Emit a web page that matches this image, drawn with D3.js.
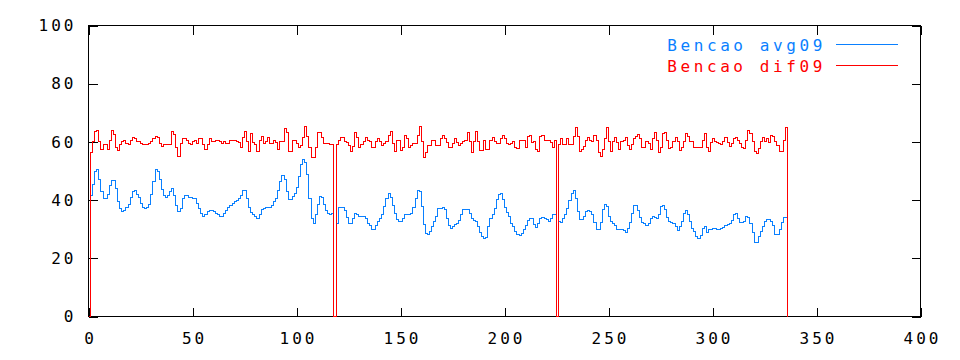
<!DOCTYPE html>
<html>
<head>
<meta charset="utf-8">
<script src="https://cdn.jsdelivr.net/npm/d3@7"></script>
<style>
  body { margin: 0; background: #fff; }
  svg { display: block; }
  text { font-family: "DejaVu Sans Mono", monospace; font-size: 16px; letter-spacing: 3px; }
  .legend text { letter-spacing: 3.6px; }
</style>
</head>
<body>
<script>
var seriesNames = ["Bencao avg09", "Bencao dif09"];
var seriesColors = ["#0a80ff", "#ff0000"];

var xTicks = [0, 50, 100, 150, 200, 250, 300, 350, 400];
var yTicks = [0, 20, 40, 60, 80, 100];

// avg09, one value per x step (x = index), null = no point yet
var avg09 = [
  null, 41.5, 45.5, 50, 50.5, 47, 43, 40.5, 40.5, 42,
  45, 46.8, 46.8, 44, 39.5, 37, 36, 36.5, 37.5, 38.5,
  41, 43, 43.2, 42, 41, 39, 37.5, 37, 37.5, 38.5,
  42, 46.5, 50.5, 50, 47, 43.5, 41.5, 41, 41.5, 43,
  44, 41.5, 38, 36, 37, 40.5, 41.5, 41.5, 41, 41,
  40.5, 40.5, 39, 37, 35.5, 34.5, 35, 36, 36.5, 36.5,
  36, 35.5, 35, 34.5, 34.5, 35.5, 36.4, 37.5, 38.2, 39,
  39.6, 39.9, 40.4, 41.6, 43.4, 43.2, 40.4, 37.5, 35.9, 35.2,
  34.4, 33.8, 35, 36.7, 37, 37.3, 37.3, 37.3, 38.2, 39.6,
  40.7, 43.2, 46.4, 48.4, 47, 43, 40.1, 40.1, 41.3, 42.1,
  44.2, 48.2, 52.2, 53.9, 52.8, 48.8, 40.7, 33.8, 32.1, 35,
  38.6, 41.3, 41, 38.4, 36.3, 35.3, 35, 35.5, 0, 32.1,
  37.3, 37.3, 37.5, 36.3, 34, 32.1, 32.1, 33.8, 35.5, 35,
  34.2, 34.4, 34.4, 33.8, 32, 31.3, 30, 30, 31.3, 32.7,
  33.8, 35, 37.8, 40.7, 42.1, 41, 38.2, 35.5, 33.5, 32.7,
  32.7, 33.6, 35, 35.2, 35.2, 35.5, 37.5, 40.7, 43.2, 43,
  37.8, 31.5, 28.4, 28.1, 29.2, 31, 32.7, 34.4, 37, 37,
  37.5, 36.7, 33.8, 31.3, 30.4, 31, 31.5, 31.8, 32.9, 35,
  36.7, 36.9, 36.9, 35.3, 33.6, 33, 32.7, 31, 29, 27.5,
  26.9, 27.3, 31, 33.8, 35.2, 37, 40.1, 41.9, 42.1, 40.1,
  37.5, 35.8, 34.4, 32.1, 31, 29.2, 28.1, 27.7, 28.6, 29.8,
  31.3, 32.9, 33.8, 33.6, 31.5, 30.6, 32.1, 33.8, 34, 33.8,
  33.2, 32.7, 33.6, 35, 35, 0, 32.7, 32.4, 33.6, 35,
  37, 39.8, 42.1, 43.2, 40.7, 36.1, 33.2, 33.2, 34.4, 36.1,
  36.3, 36.1, 35, 32.4, 29.8, 29.8, 32.4, 36.7, 38.4, 37.8,
  34.4, 32.7, 31.8, 31.3, 30, 30, 30, 29.4, 29, 30.4,
  32.4, 35.5, 38.2, 38.2, 36.3, 34, 32.3, 31.8, 31.3, 32.1,
  33.8, 34.4, 34, 33.8, 35.2, 37.8, 38.2, 36.7, 34, 32.7,
  32.4, 31.8, 31, 29.4, 31, 32.7, 35.5, 36.3, 35, 32.7,
  30.1, 29.2, 27.5, 26.7, 27.8, 30.4, 30.8, 29, 29.8, 29.8,
  30.4, 30.4, 29.8, 29.8, 30.1, 30.6, 31.3, 31.5, 32.1, 32.9,
  35, 35.3, 33.8, 32.3, 32.3, 32.7, 34.4, 34.1, 32.1, 29,
  25.5, 25.5, 27.5, 29.2, 31, 32.7, 33.2, 33.2, 32.7, 31.3,
  28.3, 28.1, 30, 32.3, 34.1, 34.1, 0
];

// dif09
var dif09 = [
  0, 56.5, 60, 63.5, 64, 60, 57.5, 59, 59, 57.5,
  60.5, 64, 62.5, 58, 57, 59, 60, 60.5, 59.5, 59,
  60.5, 61.5, 61, 60, 60, 59.5, 59, 59, 59, 59.5,
  60, 61, 62, 61.5, 59.5, 58.5, 59, 59, 59, 59,
  63.5, 62.5, 58, 55, 59.5, 61, 61, 60.5, 59.5, 59,
  60, 60.5, 59.5, 61, 61, 59, 57.5, 59, 61, 60,
  60, 60.5, 60.5, 60, 59.5, 60, 59.5, 59.3, 60.5, 60.5,
  60.5, 60, 59.7, 58.2, 61.4, 63.7, 60, 56.6, 62.9, 59.7,
  59.1, 56.6, 60.6, 62, 59.3, 60, 61.4, 59.3, 59.3, 60.5,
  59.7, 57.4, 60, 60.2, 64.6, 63.1, 56.6, 56.6, 60.5, 60.5,
  59.3, 58.2, 58.9, 61.6, 65.4, 62, 58.2, 54.5, 54.5, 58.2,
  63.1, 63.1, 61.6, 59.3, 59.3, 59.3, 59.1, 59.1, 0, 59.1,
  60.5, 61.6, 61.6, 60.2, 59.7, 58.9, 56.6, 58.5, 63.1, 61.6,
  58.2, 59.1, 60, 61.6, 60.5, 60, 58.2, 58.2, 60, 61.2,
  60, 58.9, 59.3, 60, 62.3, 63.7, 59.3, 56.8, 60.6, 60.6,
  57, 58.2, 62.3, 61.2, 58.2, 58.9, 59.3, 59.3, 62.3, 65.4,
  60, 54.5, 56.4, 58.9, 58.9, 60.6, 60.6, 58.9, 58.9, 61.2,
  62.3, 61.2, 59.7, 58.2, 58.2, 59.3, 61.2, 59.7, 58.9, 59.3,
  60, 60.6, 63.1, 60.2, 56.4, 60.2, 63.7, 60.2, 57, 57,
  60.6, 57.4, 57.4, 60.6, 61.6, 60, 59.3, 59.3, 61.2, 62.3,
  61.2, 59.5, 59.1, 59.3, 60, 58.2, 57.6, 60.6, 60.6, 60.6,
  58.2, 62, 62.3, 59.7, 60, 57.4, 56.8, 62, 62.3, 60.6,
  60.6, 60.6, 59.7, 58.2, 60.6, 0, 59.1, 61.2, 59.1, 59.1,
  61.2, 59.1, 59.1, 62, 64.8, 62, 56.8, 57.4, 58.5, 60.5,
  61.6, 60.5, 60, 62.3, 60.5, 56.2, 55.1, 57.4, 61.2, 64.8,
  60, 56.8, 60, 61.6, 59.7, 57.4, 60, 60.6, 61.6, 58.9,
  57.4, 59.1, 61.2, 61.7, 62.5, 61.2, 58.2, 58.2, 60, 59.3,
  57.4, 61.2, 63.1, 60.5, 56.4, 58.2, 62.9, 63.1, 60.5, 57.7,
  58.2, 60.2, 61.6, 60, 57.1, 58.2, 60, 62.9, 62, 60,
  60, 58.2, 58.2, 58.2, 58.2, 60.5, 62.9, 58.2, 56.8, 59.7,
  61.2, 60, 59.7, 59.3, 59.1, 60, 61.6, 59.7, 58.5, 59.3,
  61.2, 61.6, 60.5, 59.3, 58.2, 57.6, 60.5, 63.9, 62.8, 60,
  56.8, 55.9, 57.7, 60, 61.6, 60, 61.2, 59.7, 62.3, 62,
  60, 58.9, 56.8, 56.8, 60.5, 65, 0
];

(function() {
  'use strict';

  var width = 960,
      height = 360,
      margin = {left: 88.5, right: 39.5, top: 25.5, bottom: 43.5};

  var svg = d3.select("body").append("svg")
              .attr("width", width)
              .attr("height", height);

  var x = d3.scaleLinear().domain([0, 400]).range([margin.left, width - margin.right]);
  var y = d3.scaleLinear().domain([0, 100]).range([height - margin.bottom, margin.top]);

  // ticks point inward on all four sides, like gnuplot
  function styleAxis(g) {
    g.select(".domain").remove();
    g.selectAll(".tick line").attr("stroke", "#000").attr("shape-rendering", "crispEdges");
    g.selectAll(".tick text")
      .attr("fill", "#000")
      .attr("font-family", null)
      .attr("font-size", null);
  }

  svg.append("g")
     .attr("transform", "translate(0," + y(0) + ")")
     .call(d3.axisBottom(x).tickValues(xTicks).tickSizeInner(-9).tickSizeOuter(0).tickPadding(16))
     .call(styleAxis)
     .selectAll(".tick text").attr("dx", "1.5");

  svg.append("g")
     .attr("transform", "translate(0," + y(100) + ")")
     .call(d3.axisTop(x).tickValues(xTicks).tickSizeInner(-9).tickSizeOuter(0).tickFormat(""))
     .call(styleAxis);

  svg.append("g")
     .attr("transform", "translate(" + x(0) + ",0)")
     .call(d3.axisLeft(y).tickValues(yTicks).tickSizeInner(-9).tickSizeOuter(0).tickPadding(12))
     .call(styleAxis);

  svg.append("g")
     .attr("transform", "translate(" + x(400) + ",0)")
     .call(d3.axisRight(y).tickValues(yTicks).tickSizeInner(-9).tickSizeOuter(0).tickFormat(""))
     .call(styleAxis);

  svg.append("rect")
     .attr("x", x(0))
     .attr("y", y(100))
     .attr("width", x(400) - x(0))
     .attr("height", y(0) - y(100))
     .attr("fill", "none")
     .attr("stroke", "#000")
     .attr("shape-rendering", "crispEdges");

  var line = d3.line()
               .defined(function(d) { return d != null; })
               .x(function(d, i) { return x(i); })
               .y(function(d) { return y(d); })
               .curve(d3.curveStepAfter);

  svg.selectAll("path.series").data([avg09, dif09]).enter()
     .append("path")
     .attr("class", "series")
     .attr("d", line)
     .attr("fill", "none")
     .attr("stroke", function(d, i) { return seriesColors[i]; })
     .attr("stroke-width", 1)
     .attr("shape-rendering", "crispEdges");

  // legend, top right inside the frame
  var legend = svg.selectAll("g.legend").data(seriesNames).enter()
                  .append("g")
                  .attr("class", "legend")
                  .attr("transform", function(d, i) { return "translate(0," + (44.5 + i * 21) + ")"; });

  legend.append("text")
        .attr("x", 826)
        .attr("y", 6.5)
        .attr("text-anchor", "end")
        .attr("fill", function(d, i) { return seriesColors[i]; })
        .text(function(d) { return d; });

  legend.append("line")
        .attr("x1", 836)
        .attr("x2", 898)
        .attr("y1", 0)
        .attr("y2", 0)
        .attr("stroke", function(d, i) { return seriesColors[i]; })
        .attr("shape-rendering", "crispEdges");

})();
</script>
</body>
</html>
